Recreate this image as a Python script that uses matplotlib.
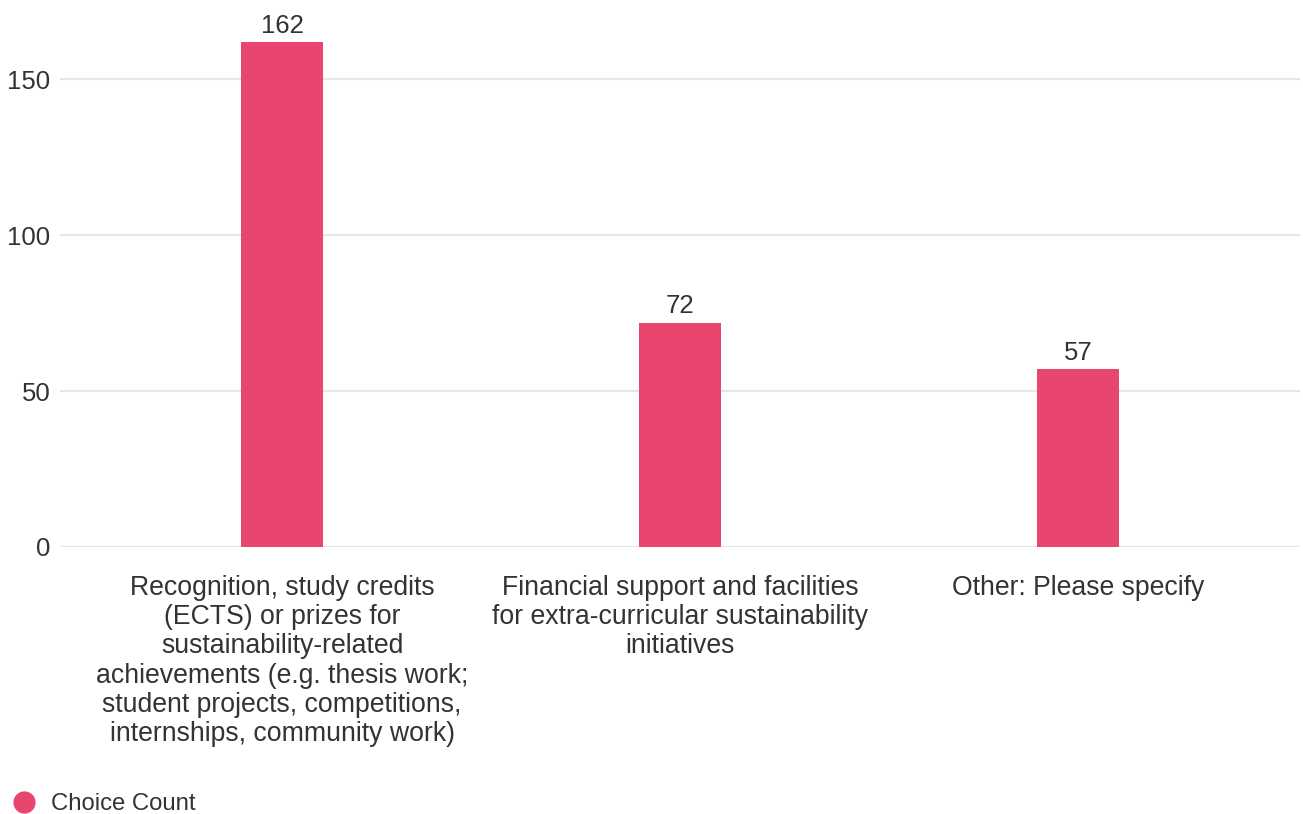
import matplotlib
matplotlib.use("Agg")
import matplotlib.pyplot as plt
from matplotlib.lines import Line2D

plt.rcParams['font.family'] = ['Liberation Sans', 'DejaVu Sans']

categories = [
    "Recognition, study credits\n(ECTS) or prizes for\nsustainability-related\nachievements (e.g. thesis work;\nstudent projects, competitions,\ninternships, community work)",
    "Financial support and facilities\nfor extra-curricular sustainability\ninitiatives",
    "Other: Please specify",
]
counts = [162, 72, 57]
y_ticks = [0, 50, 100, 150]
series_name = "Choice Count"

bar_color = "#E8466F"
text_color = "#333333"
grid_color = "#E6E6E6"

W, H = 1303, 814
fig = plt.figure(figsize=(W / 100, H / 100), dpi=100)
ax = fig.add_axes([60 / W, (H - 547) / H, 1240 / W, (547 - 17) / H])

x = list(range(len(categories)))
ax.bar(x, counts, width=0.204, color=bar_color, zorder=3)

for xi, v in zip(x, counts):
    ax.annotate(str(v), (xi, v), xytext=(0, 3), textcoords="offset points",
                ha="center", va="bottom", fontsize=18.5, color=text_color)

ax.set_xlim(-0.558, 2.558)
ax.set_ylim(0, 170)
ax.set_yticks(y_ticks)
ax.set_yticklabels([str(t) for t in y_ticks], fontsize=18.5, color=text_color)
ax.set_xticks(x)
ax.set_xticklabels(categories, fontsize=19.2, color=text_color, linespacing=1.165,
                   va="top", ha="center")
ax.tick_params(axis="y", length=0, pad=7)
ax.tick_params(axis="x", length=0, pad=20)
ax.yaxis.grid(True, color=grid_color, linewidth=1.5, zorder=0)
for s in ax.spines.values():
    s.set_visible(False)

handle = Line2D([], [], marker="o", linestyle="none", markersize=15,
                markerfacecolor=bar_color, markeredgecolor=bar_color)
fig.legend([handle], [series_name], loc="lower left",
           bbox_to_anchor=(-9 / W, (H - 824.5) / H), frameon=False,
           fontsize=17.2, handletextpad=0.1, labelcolor=text_color,
           borderaxespad=0)

fig.savefig("out.png", dpi=100, facecolor="white")
